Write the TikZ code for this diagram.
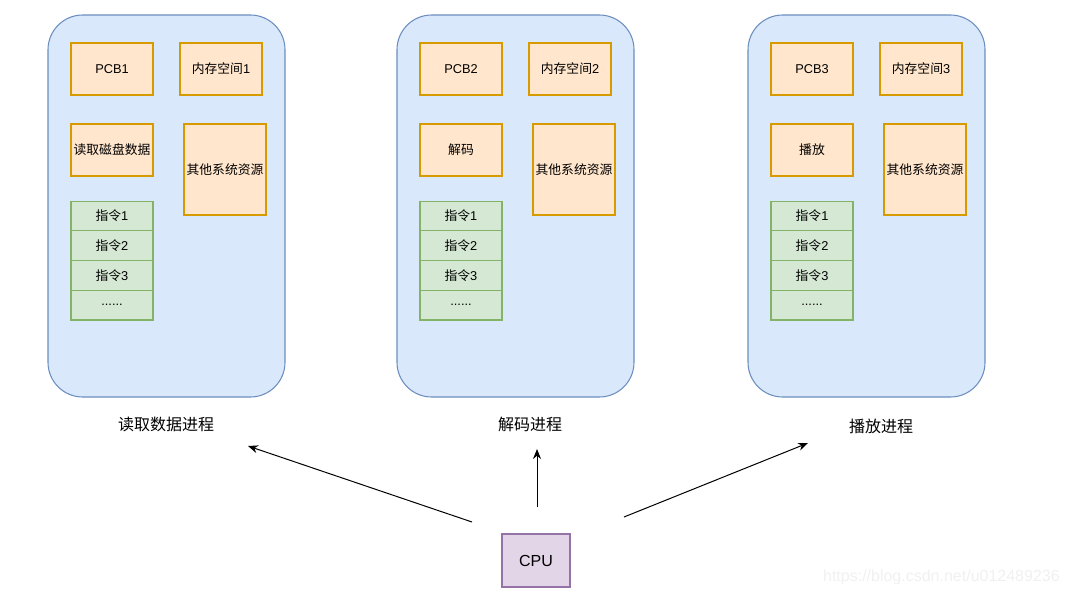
\documentclass[tikz,border=0pt]{standalone}
\usepackage{fontspec}
\setmainfont{Liberation Sans}
\newfontfamily\cjk{Noto Sans CJK SC}
\usetikzlibrary{arrows.meta}
\definecolor{procfill}{HTML}{DAE8FC}
\definecolor{procline}{HTML}{6C8EBF}
\definecolor{orfill}{HTML}{FFE6CC}
\definecolor{orline}{HTML}{D79B00}
\definecolor{grfill}{HTML}{D5E8D4}
\definecolor{grline}{HTML}{82B366}
\definecolor{pufill}{HTML}{E1D5E7}
\definecolor{puline}{HTML}{9673A6}
\definecolor{wmark}{HTML}{F0F0F0}
\tikzset{
  proc/.style={draw=procline, fill=procfill, line width=0.8pt, rounded corners=26pt,
    minimum width=177.75pt, minimum height=286.5pt, inner sep=0pt},
  orbox/.style={draw=orline, fill=orfill, line width=0.8pt, minimum width=61.5pt,
    minimum height=39pt, inner sep=1pt, font=\fontsize{9.6}{11}\selectfont},
  orbig/.style={orbox, minimum height=68.25pt},
  instr/.style={draw=grline, fill=grfill, line width=0.8pt, minimum width=61.5pt,
    minimum height=22.3pt, inner sep=0pt, font=\fontsize{9.6}{11}\selectfont},
  plabel/.style={font=\cjk\fontsize{12}{14}\selectfont, inner sep=0pt},
  cpubox/.style={draw=puline, fill=pufill, line width=0.8pt, minimum width=51pt,
    minimum height=39.75pt, font=\fontsize{12}{14}\selectfont},
  arr/.style={-{Stealth[length=7.5pt,width=6pt]}, line width=0.75pt, black}
}
\begin{document}
\begin{tikzpicture}[x=0.75pt,y=-0.75pt]
\useasboundingbox (0,0) rectangle (1069,596);
\foreach \dx/\i/\task/\lab/\lx/\ly in {0/1/读取磁盘数据/读取数据进程/166/424,
  349/2/解码/解码进程/530/424, 700/3/播放/播放进程/881/426} {
  \node[proc] (p\i) at (166.5+\dx,206) {};
  \node[orbox] (pcb\i) at (112+\dx,69) {PCB\i};
  \node[orbox] (mem\i) at (221+\dx,69) {{\cjk 内存空间}\i};
  \node[orbox] (task\i) at (112+\dx,150) {\cjk \task};
  \node[orbig] (res\i) at (225+\dx,169.5) {\cjk 其他系统资源};
  \node[instr] (ia\i) at (112+\dx,216) {{\cjk 指令}1};
  \node[instr] (ib\i) at (112+\dx,245.7) {{\cjk 指令}2};
  \node[instr] (ic\i) at (112+\dx,275.4) {{\cjk 指令}3};
  \node[instr] (id\i) at (112+\dx,305.1) {......};
  \node[plabel] (lab\i) at (\lx,\ly) {\lab};
}
\node[cpubox] (cpu) at (536,560.5) {CPU};
\coordinate (s1) at (472,522);
\coordinate (e1) at (248,446);
\coordinate (s2) at (537,507);
\coordinate (e2) at (537,449);
\coordinate (s3) at (624,517);
\coordinate (e3) at (808,443);
\draw[arr] (s1) -- (e1);
\draw[arr] (s2) -- (e2);
\draw[arr] (s3) -- (e3);
\node[anchor=east, text=wmark, font=\fontsize{12}{14}\selectfont, inner sep=0pt] (wm) at (1060,577) {https://blog.csdn.net/u012489236};
\end{tikzpicture}
\end{document}
